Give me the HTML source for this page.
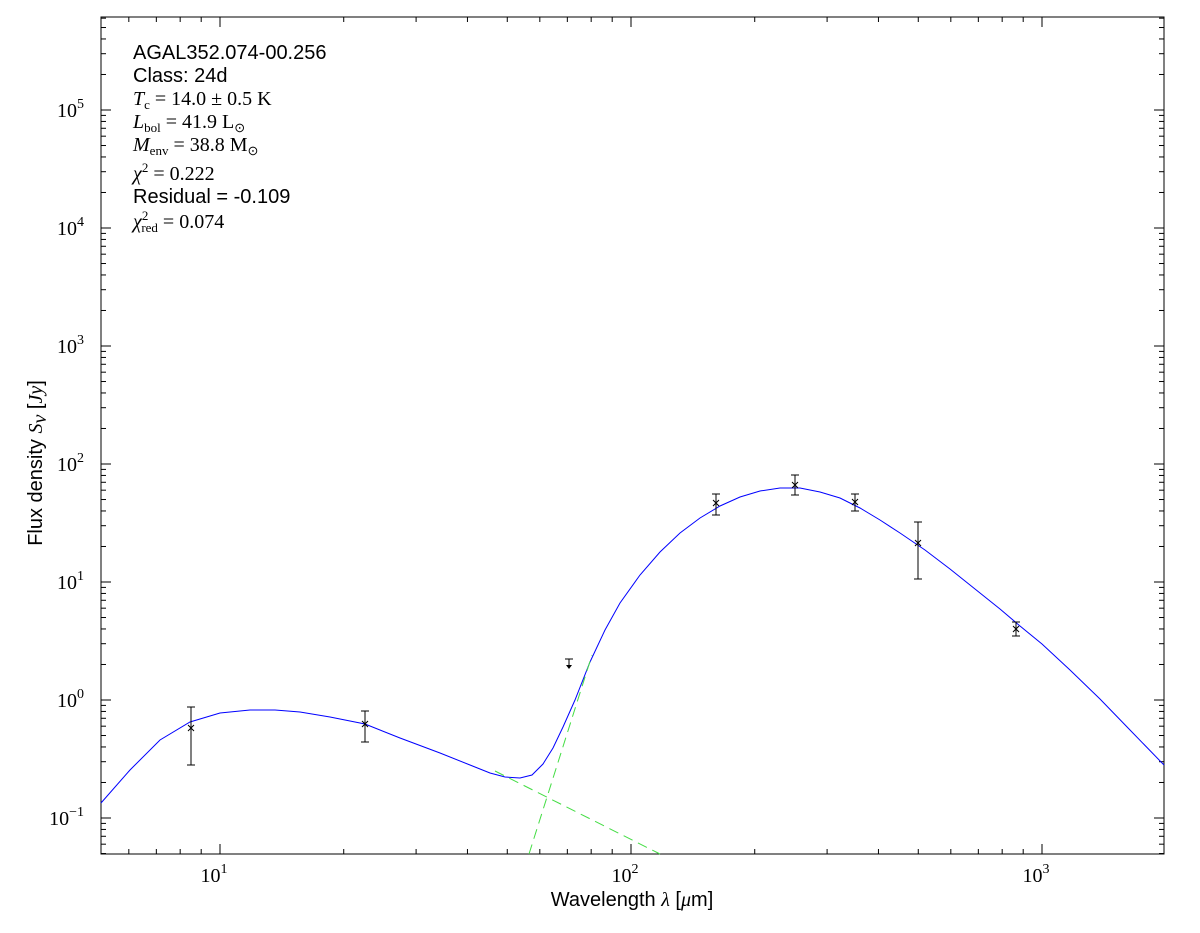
<!DOCTYPE html>
<html><head><style>
body{margin:0;background:#fff;width:1200px;height:933px;overflow:hidden}
svg{display:block}
.s{font-family:"Liberation Sans",sans-serif;font-size:20px}
.m{font-family:"Liberation Serif",serif;font-size:20px;font-style:italic}
.r{font-family:"Liberation Serif",serif;font-size:20px}
</style></head><body>
<svg id="g" width="1200" height="933" xmlns="http://www.w3.org/2000/svg">
<rect x="101" y="17" width="1063" height="837" fill="none" stroke="#000" stroke-width="1"/>
<g id="ticks" stroke="#000" stroke-width="1"></g>
<polyline fill="none" stroke="#00f" stroke-width="1" points="101,803 130,770 160,740 190,722 220,713 250,710 275,710 300,712 330,717 365,724 400,738 440,753 470,765 490,773 505,777 520,778 532,775 543,764 553,748 563,727 575,700 590,662 605,630 620,603 640,575 660,552 680,533 700,518 720,506 740,497 760,491 780,488 800,488 820,492 840,498 860,508 880,520 900,533 925,550 950,569 975,589 1000,609 1020,626 1042,644 1070,670 1100,699 1130,730 1164,765"/>
<line x1="495" y1="771" x2="660" y2="854" stroke="#44dd44" stroke-width="1" stroke-dasharray="10,6"/>
<line x1="529" y1="854" x2="592" y2="655" stroke="#44dd44" stroke-width="1" stroke-dasharray="10,6"/>
<g stroke="#000" stroke-width="1" fill="none">
<path d="M191,707V765M187,707H195M187,765H195"/>
<path d="M365,711V742M361,711H369M361,742H369"/>
<path d="M716,494V515M712,494H720M712,515H720"/>
<path d="M795,475V495M791,475H799M791,495H799"/>
<path d="M855,494V511M851,494H859M851,511H859"/>
<path d="M918,522V579M914,522H922M914,579H922"/>
<path d="M1016,622V636M1012,622H1020M1012,636H1020"/>
<path d="M565,659H573M569,659V666"/>
<path d="M188,725l6,6M194,725l-6,6M362,721l6,6M368,721l-6,6M713,500l6,6M719,500l-6,6M792,482l6,6M798,482l-6,6M852,499l6,6M858,499l-6,6M915,540l6,6M921,540l-6,6M1013,626l6,6M1019,626l-6,6"/>
</g>
<path d="M566,665L569,669L572,665Z" fill="#000"/>
<text x="133" y="59" class="s">AGAL352.074-00.256</text>
<text x="133" y="82" class="s">Class: 24d</text>
<text x="133" y="105" class="r"><tspan class="m">T</tspan><tspan font-size="13" dy="4">c</tspan><tspan dy="-4"> = 14.0 ± 0.5 K</tspan></text>
<text x="133" y="128" class="r"><tspan class="m">L</tspan><tspan font-size="13" dy="4">bol</tspan><tspan dy="-4"> = 41.9 L</tspan><tspan font-size="13" dy="4">⊙</tspan></text>
<text x="133" y="151" class="r"><tspan class="m">M</tspan><tspan font-size="13" dy="4">env</tspan><tspan dy="-4"> = 38.8 M</tspan><tspan font-size="13" dy="4">⊙</tspan></text>
<text x="133" y="180" class="r"><tspan class="m">χ</tspan><tspan font-size="13" dy="-8">2</tspan><tspan dy="8"> = 0.222</tspan></text>
<text x="133" y="203" class="s">Residual = -0.109</text>
<text x="133" y="228" class="r"><tspan class="m">χ</tspan><tspan font-size="13" dy="-8">2</tspan><tspan font-size="13" dx="-7" dy="12">red</tspan><tspan dy="-4"> = 0.074</tspan></text>
<text x="632" y="906" class="s" text-anchor="middle" font-size="21">Wavelength <tspan class="m">λ</tspan> [<tspan class="m">μ</tspan>m]</text>
<text transform="translate(42,463) rotate(-90)" class="s" text-anchor="middle">Flux density <tspan class="m">S</tspan><tspan class="m" font-size="13" dy="4">ν</tspan><tspan dy="-4"> [</tspan><tspan class="m">Jy</tspan>]</text>
<g id="lab" class="r"></g>
</svg>
<script>
var t=document.getElementById('ticks'),L=document.getElementById('lab'),ns='http://www.w3.org/2000/svg';
function ln(a,b,c,d){var e=document.createElementNS(ns,'line');e.setAttribute('x1',a);e.setAttribute('y1',b);e.setAttribute('x2',c);e.setAttribute('y2',d);t.appendChild(e);}
function tx(x,y,s,anc){var e=document.createElementNS(ns,'text');e.setAttribute('x',x);e.setAttribute('y',y);e.setAttribute('text-anchor',anc);e.setAttribute('font-family','Liberation Serif');e.setAttribute('font-size','20');e.innerHTML=s;L.appendChild(e);}
for(var d=0;d<4;d++)for(var k=1;k<10;k++){var x=220+411*(d+Math.log10(k))-411;if(x<101||x>1164)continue;var len=k==1?10:5;ln(x,854,x,854-len);ln(x,17,x,17+len);}
[[220,1],[631,2],[1042,3]].forEach(function(p){tx(p[0]-6,882,'10<tspan font-size="14" dy="-9">'+p[1]+'</tspan>','middle');});
for(var d=-2;d<6;d++)for(var k=1;k<10;k++){var y=700-118*(d+Math.log10(k));if(y<17||y>854)continue;var len=k==1?10:5;ln(101,y,101+len,y);ln(1164,y,1164-len,y);}
for(var d=-1;d<6;d++){var y=700-118*d;tx(84,y+7,'10<tspan font-size="14" dy="-9">'+d.toString().replace('-','−')+'</tspan>','end');}
</script>
</body></html>
